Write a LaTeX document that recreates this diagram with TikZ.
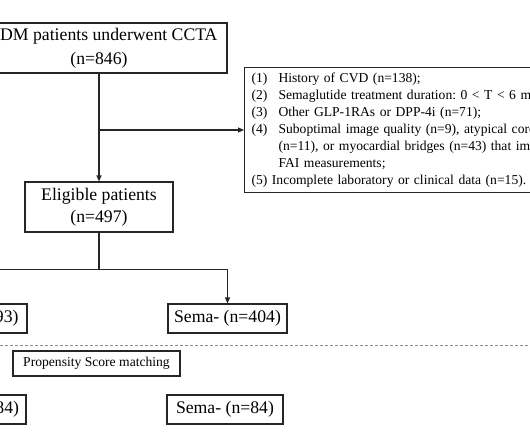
\documentclass[tikz,border=0pt]{standalone}
\usepackage{fontspec}
\setmainfont{Liberation Serif}
\usetikzlibrary{arrows.meta}
\begin{document}
\frenchspacing
\begin{tikzpicture}[x=1pt,y=-1pt,
  box/.style={draw=black!85, line width=1.1pt, inner sep=0pt, align=center},
  big/.style={font=\fontsize{17.7}{24.4}\selectfont},
  small/.style={font=\fontsize{13.6}{17.1}\selectfont},
  conn/.style={line width=1.1pt, draw=black!85},
  tip/.style={-{Triangle[length=6pt,width=5pt]}},
  sep/.style={draw=black!45, line width=0.8pt, dash pattern=on 3pt off 2pt}]
\useasboundingbox (0,0) rectangle (530,442);
\clip (0,0) rectangle (530,442);

\node[box,big,minimum width=256pt,minimum height=50pt] (top) at (99,48)
  {T2DM patients underwent CCTA\\(n=846)};
\node[box,small,align=left,text width=420pt,inner xsep=7pt,inner ysep=0pt,
  minimum height=125pt,anchor=west] (excl) at (244,130)
  {\makebox[27pt][l]{(1)}History of CVD (n=138);\\
   \makebox[27pt][l]{(2)}Semaglutide treatment duration: 0 < T < 6 months;\\
   \makebox[27pt][l]{(3)}Other GLP-1RAs or DPP-4i (n=71);\\
   \makebox[27pt][l]{(4)}Suboptimal image quality (n=9), atypical coronary\\
   \hspace*{27pt}(n=11), or myocardial bridges (n=43) that impede\\
   \hspace*{27pt}FAI measurements;\\
   (5) Incomplete laboratory or clinical data (n=15).};
\node[box,font=\fontsize{17.7}{21.6}\selectfont,minimum width=148pt,minimum height=50pt] (elig) at (99,207)
  {Eligible patients\\(n=497)};
\node[box,big,minimum width=119pt,minimum height=29pt] (splus) at (-32.5,318.5) {Sema+ (n=93)};
\node[box,big,minimum width=119pt,minimum height=29pt] (sminus) at (227.5,318.5) {Sema- (n=404)};
\node[box,small,minimum width=167pt,minimum height=25pt] (psm) at (96.5,363.5) {Propensity Score matching};
\node[box,big,minimum width=116pt,minimum height=29pt] (mplus) at (-32,409.5) {Sema+ (n=84)};
\node[box,big,minimum width=116pt,minimum height=29pt] (mminus) at (225,409.5) {Sema- (n=84)};

\coordinate (branch) at (top.south |- excl.west);
\coordinate (sepL) at (-5,345);
\coordinate (sepR) at (540,345);

\draw[conn,tip] (top.south) -- (elig.north);
\draw[conn,tip] (branch) -- (excl.west);
\draw[conn,tip] (elig.south) -- ++(0,37) -| (splus.north);
\draw[conn,tip] (elig.south) -- ++(0,37) -| (sminus.north);
\draw[sep] (sepL) -- (sepR);
\end{tikzpicture}
\end{document}
